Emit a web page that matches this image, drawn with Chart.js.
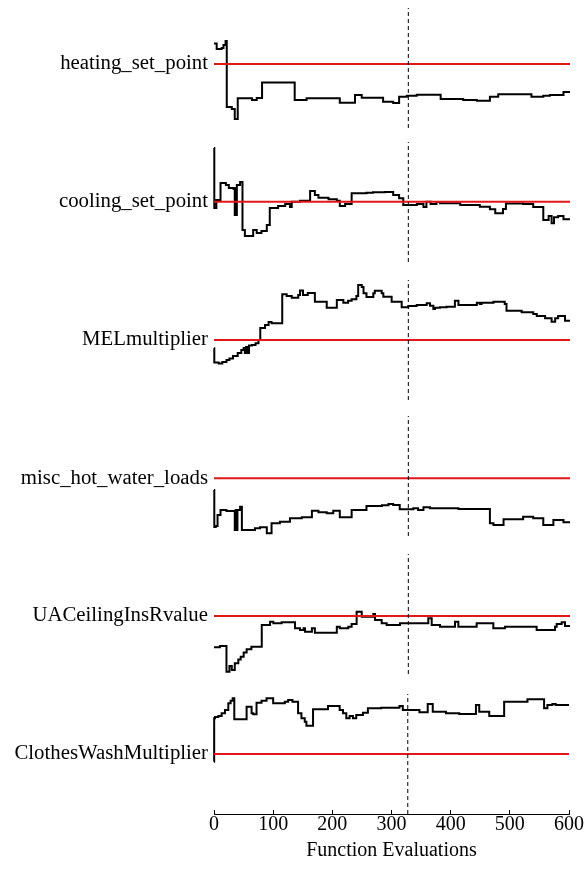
<!DOCTYPE html>
<html>
<head>
<meta charset="utf-8">
<script src="https://cdn.jsdelivr.net/npm/chart.js@4/dist/chart.umd.min.js"></script>
<style>
  html, body { margin: 0; padding: 0; background: #ffffff; }
  #fig { position: relative; width: 587px; height: 872px; overflow: hidden; }
  #fig canvas { position: absolute; left: 0; }
</style>
</head>
<body>
<div id="fig"></div>
<script>
// Parameter traces over the optimisation run (normalised units per panel)
const parameterNames = [
  'heating_set_point', 'cooling_set_point', 'MELmultiplier',
  'misc_hot_water_loads', 'UACeilingInsRvalue', 'ClothesWashMultiplier'
];
const trueValues = [64, 60.3, 60, 57.7, 58, 60];
const checkpointEval = 327.5;
const xTicks = [0, 100, 200, 300, 400, 500, 600];

const heatingEvals  = [0, 4.5, 13, 16, 19.5, 21.5, 30, 35, 40, 64, 72, 81, 136, 156, 212, 237.6, 249, 285, 302, 312, 325, 341.6, 382, 420, 443, 465, 479, 535, 555, 566, 589, 600];
const heatingValues = [84.5, 79, 80, 83, 87, 21, 19, 9, 29.7, 28, 30, 45.5, 28, 29.7, 25.3, 33, 30.3, 26.3, 25, 31.3, 32.3, 33.3, 29, 28, 27.3, 31.3, 33.7, 31.3, 32.3, 33, 36, 36];

const coolingEvals  = [0, 0.5, 4, 11, 20, 25, 33, 35, 36.5, 37.5, 38.5, 44, 48, 52, 66, 72, 80, 89, 94, 108, 120, 128, 131, 145, 162, 170, 176, 193, 207, 212, 221, 232, 257, 268, 288, 302, 312, 319, 342, 353, 358, 365, 375, 381, 415, 448, 465, 474, 487, 492, 521, 538, 555, 564, 569, 573, 580, 589, 600];
const coolingValues = [114, 54, 62, 79, 77, 74, 73, 47, 74, 47, 77, 80, 32, 26, 32, 29, 31, 37, 54, 56, 58, 55, 60.3, 61.3, 71, 67, 64.3, 62.7, 61.3, 56, 58, 68.7, 69.3, 69.7, 70, 67, 63.7, 57, 58, 55, 60.3, 58, 60, 58.7, 57, 55.3, 52.7, 48.7, 53, 58.5, 58, 55, 42, 46, 38.7, 44.7, 46, 42.7, 42.7];

const melEvals  = [0, 0.5, 8, 14, 21, 26, 32, 40, 46, 50, 52, 54, 57, 59, 64, 70, 75, 78, 86, 92, 97, 115, 122.5, 131, 142, 145, 150, 158, 170, 190, 207, 218, 226, 232, 240, 243, 249, 252, 257, 268.5, 271, 282.6, 285.4, 299.4, 316.3, 327.5, 341.6, 358.4, 364, 369.7, 372.5, 380.9, 392, 406, 412, 443, 448, 451, 471, 490, 493, 518.5, 538, 544, 558, 569, 575, 580, 591.6, 600];
const melValues = [51.7, 37.5, 36.5, 38, 40, 41.5, 44, 47, 50, 52, 47, 53, 47, 54.5, 55, 56.7, 60, 72, 75, 78, 76.7, 105.7, 104, 102.3, 105, 109.5, 105, 107, 98.3, 92.3, 100, 97.3, 99.3, 100.7, 104, 115, 113, 106.7, 103, 106.7, 109.3, 106.7, 103.3, 98.3, 92.7, 94, 95, 96.7, 94.3, 91, 92.3, 92.7, 93.3, 99.3, 95, 97.3, 96, 97.3, 98.3, 96, 89.3, 87.7, 86, 84, 81.7, 78.3, 81.7, 84, 79.3, 79.3];

const hotWaterEvals  = [0, 0.5, 3, 6, 11, 21, 35, 36.5, 38, 39.5, 44, 47, 69, 77.5, 89, 97, 111, 128, 148, 165, 176, 190, 201, 212, 232, 257, 283, 294, 302, 313, 336, 344, 353, 364, 412, 465, 471, 488, 521, 538, 555, 572, 589, 600];
const hotWaterValues = [46, 9, 10, 21, 26, 25, 6, 26, 6, 26, 29.3, 6, 7.7, 8.7, 2.7, 12.7, 14.3, 17.7, 18.7, 25.3, 23.7, 22.7, 25.3, 18.7, 26, 30, 30.7, 32, 31, 26.7, 27.7, 26, 28.7, 27.7, 27, 12.7, 11, 16.7, 19.3, 17.7, 11, 16, 13.7, 13.7];

const ceilingEvals  = [0, 10, 21, 26, 30, 35, 41, 45, 50, 55, 63, 80.5, 94.5, 100, 114, 136.5, 145, 151, 153.4, 165, 170, 207, 212, 226.4, 232, 240.4, 249, 268.5, 271.3, 282.6, 291, 313.5, 361.2, 366.9, 380.9, 406.2, 411.8, 442.7, 470.8, 490.4, 543.8, 574.7, 577.5, 586, 591.6, 600];
const ceilingValues = [26.7, 28, 2.3, 8, 4, 10.7, 14.5, 17.3, 21.5, 24.7, 27.3, 49, 52.3, 50.7, 51.7, 45.7, 44, 45.7, 42.3, 45.7, 41.3, 47.3, 45.7, 47.3, 50, 62.3, 57.3, 60, 54, 50.7, 49, 50.7, 55.7, 49, 47.3, 52.3, 47.3, 50.7, 45.7, 47.3, 44, 47.3, 50, 51.7, 48, 48];

const washEvals  = [0, 0.3, 1.7, 7.3, 12.9, 18.5, 24.2, 28.1, 31.5, 34.3, 55.1, 63.5, 66.3, 71.9, 80.3, 88.8, 100, 119.7, 125.3, 132.6, 142.1, 147.8, 153.4, 156.2, 167.4, 192.7, 212.4, 218, 223.6, 229.2, 234.8, 240.4, 251.7, 260.1, 282.6, 313.5, 319.1, 347.2, 361.2, 369.7, 392.1, 414.6, 442.7, 448.3, 465.2, 490.4, 529.8, 557.9, 563.5, 571.9, 577.5, 600];
const washValues = [52.3, 95.7, 97, 98, 100.7, 104, 110.7, 113.3, 115.7, 94.7, 107.3, 100.7, 99.7, 111.3, 113.3, 115.7, 110.7, 112.3, 114, 112.3, 100.7, 95.7, 92.3, 88.3, 104.7, 108, 104, 100.7, 95.7, 98, 95.7, 99, 101.3, 105.7, 106.3, 108, 104, 101.7, 110, 102.3, 100.7, 100, 109, 102.3, 98, 112.3, 114.7, 105.7, 109, 110, 109, 109];

const traceEvals  = [heatingEvals, coolingEvals, melEvals, hotWaterEvals, ceilingEvals, washEvals];
const traceValues = [heatingValues, coolingValues, melValues, hotWaterValues, ceilingValues, washValues];

// Panel geometry
const panelTops = [8, 142, 280, 416, 554, 694];
const panelHeight = 120;
const plotLeft = 214;
const plotRightPad = 17;
const axisBand = 58;
const serif = "'Liberation Serif', 'Times New Roman', serif";

const fig = document.getElementById('fig');

parameterNames.forEach((name, i) => {
  const isLast = i === parameterNames.length - 1;
  const canvas = document.createElement('canvas');
  const h = panelHeight + (isLast ? axisBand : 0);
  canvas.width = 587;
  canvas.height = h;
  canvas.style.width = '587px';
  canvas.style.height = h + 'px';
  canvas.style.top = panelTops[i] + 'px';
  fig.appendChild(canvas);

  const trace = traceEvals[i].map((x, k) => ({ x, y: traceValues[i][k] }));

  new Chart(canvas, {
    type: 'line',
    data: {
      datasets: [
        {
          data: trace,
          borderColor: '#000000',
          borderWidth: 2,
          pointRadius: 0,
          stepped: true,
          fill: false,
          clip: 4,
          order: 3
        },
        {
          data: [{ x: 0, y: trueValues[i] }, { x: 600, y: trueValues[i] }],
          borderColor: 'rgb(228, 22, 24)',
          borderWidth: 2,
          pointRadius: 0,
          fill: false,
          order: 2
        },
        {
          data: [{ x: checkpointEval, y: 0 }, { x: checkpointEval, y: panelHeight }],
          borderColor: '#000000',
          borderWidth: 1,
          borderDash: [4, 3],
          pointRadius: 0,
          fill: false,
          order: 1
        }
      ]
    },
    options: {
      responsive: false,
      animation: false,
      devicePixelRatio: 1,
      events: [],
      layout: { padding: { left: 0, right: plotRightPad, top: 0, bottom: 0 } },
      plugins: { legend: { display: false }, tooltip: { enabled: false } },
      scales: {
        x: {
          type: 'linear',
          min: 0,
          max: 600,
          display: isLast,
          afterBuildTicks: s => { s.ticks = xTicks.map(v => ({ value: v })); },
          afterFit: s => { if (isLast) s.height = axisBand; },
          border: { display: true, color: '#000000', width: 1 },
          grid: { display: true, drawOnChartArea: false, drawTicks: true, tickLength: -4, color: '#000000', lineWidth: 1 },
          ticks: { color: '#000000', padding: 3, maxRotation: 0, font: { family: serif, size: 20 } },
          title: {
            display: true,
            text: 'Function Evaluations',
            color: '#000000',
            padding: { top: 0, bottom: 9 },
            font: { family: serif, size: 20 }
          }
        },
        y: {
          type: 'linear',
          min: 0,
          max: panelHeight,
          afterFit: s => { s.width = plotLeft; s.paddingTop = 0; s.paddingBottom = 0; },
          afterBuildTicks: s => { s.ticks = [{ value: trueValues[i] }]; },
          border: { display: false },
          grid: { display: false, drawTicks: false },
          ticks: {
            color: '#000000',
            padding: 6,
            font: { family: serif, size: 20.8 },
            callback: () => name
          }
        }
      }
    }
  });
});
</script>
</body>
</html>
